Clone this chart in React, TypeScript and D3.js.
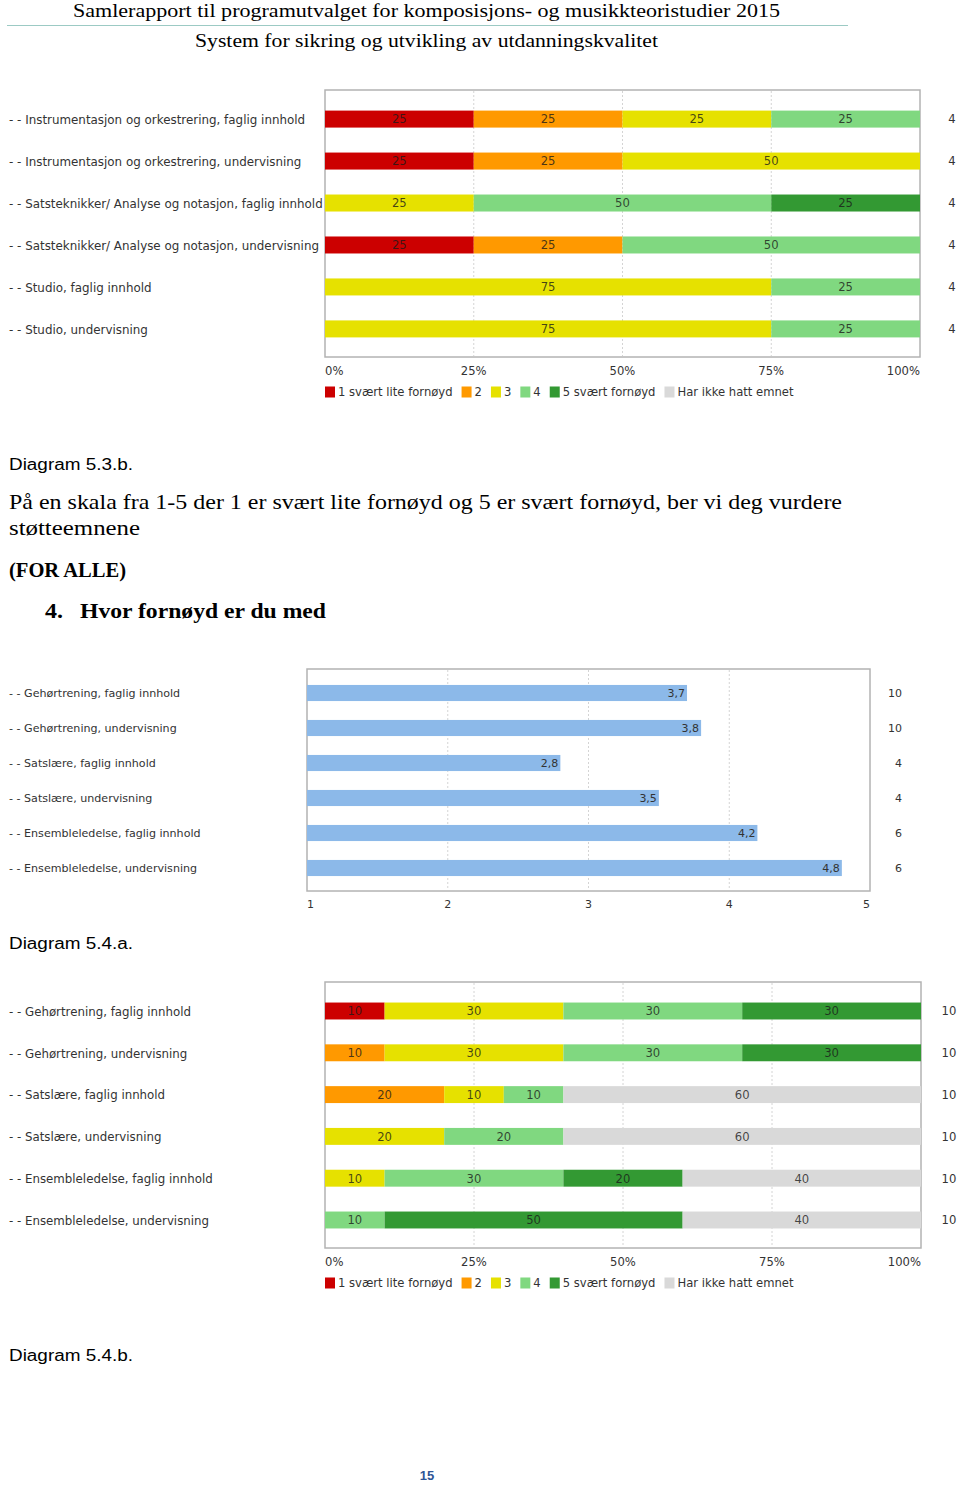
import React, { useEffect, useRef } from "react";
import * as d3 from "d3";

// ---------- data ----------
const levels = ["1 svært lite fornøyd", "2", "3", "4", "5 svært fornøyd", "Har ikke hatt emnet"];
const levelColors = ["#cc0000", "#ff9900", "#e6e100", "#80d880", "#339933", "#d9d9d9"];
const pctTicks = ["0%", "25%", "50%", "75%", "100%"];

// Diagram 5.3.b.
const cats1 = [
  "- - Instrumentasjon og orkestrering, faglig innhold",
  "- - Instrumentasjon og orkestrering, undervisning",
  "- - Satsteknikker/ Analyse og notasjon, faglig innhold",
  "- - Satsteknikker/ Analyse og notasjon, undervisning",
  "- - Studio, faglig innhold",
  "- - Studio, undervisning",
];
const c1_s1 = [25, 25, 0, 25, 0, 0];
const c1_s2 = [25, 25, 0, 25, 0, 0];
const c1_s3 = [25, 50, 25, 0, 75, 75];
const c1_s4 = [25, 0, 50, 50, 25, 25];
const c1_s5 = [0, 0, 25, 0, 0, 0];
const c1_s6 = [0, 0, 0, 0, 0, 0];
const c1_n = [4, 4, 4, 4, 4, 4];

// Diagram 5.4.a.
const cats2 = [
  "- - Gehørtrening, faglig innhold",
  "- - Gehørtrening, undervisning",
  "- - Satslære, faglig innhold",
  "- - Satslære, undervisning",
  "- - Ensembleledelse, faglig innhold",
  "- - Ensembleledelse, undervisning",
];
const c2_mean = [3.7, 3.8, 2.8, 3.5, 4.2, 4.8];
const c2_n = [10, 10, 4, 4, 6, 6];
const c2_ticks = [1, 2, 3, 4, 5];

// Diagram 5.4.b.
const cats3 = cats2;
const c3_s1 = [10, 0, 0, 0, 0, 0];
const c3_s2 = [0, 10, 20, 0, 0, 0];
const c3_s3 = [30, 30, 10, 20, 10, 0];
const c3_s4 = [30, 30, 10, 20, 30, 10];
const c3_s5 = [30, 30, 0, 0, 20, 50];
const c3_s6 = [0, 0, 60, 60, 40, 40];
const c3_n = [10, 10, 10, 10, 10, 10];

const CF = "'DejaVu Sans', Verdana, sans-serif";
const SERIF = "'Liberation Serif', 'DejaVu Serif', serif";
const SANS = "'Liberation Sans', Arial, sans-serif";

type G = d3.Selection<SVGGElement, unknown, null, undefined>;

function stackedChart(
  g: G,
  cats: string[],
  series: number[][],
  ns: number[],
  o: { left: number; right: number; top: number; bottom: number; y0: number; y1: number; axisY: number; legendY: number; nX: number; fs: number; catFs: number }
) {
  const rows = cats.map((c, i) => {
    const r: any = { cat: c };
    series.forEach((s, k) => (r["k" + k] = s[i]));
    return r;
  });
  const keys = series.map((_, k) => "k" + k);
  const stacked = d3.stack().keys(keys)(rows);
  const x = d3.scaleLinear().domain([0, 100]).range([o.left, o.right]);
  const y = d3.scaleBand<string>().domain(cats).range([o.y0, o.y1]).paddingInner(0.595).paddingOuter(0.3);

  // frame
  g.append("rect").attr("x", o.left).attr("y", o.top).attr("width", o.right - o.left).attr("height", o.bottom - o.top)
    .attr("fill", "#fff").attr("stroke", "#b3b3b3").attr("stroke-width", 1.5);
  // grid
  [25, 50, 75].forEach((t) => {
    g.append("line").attr("x1", x(t)).attr("x2", x(t)).attr("y1", o.top + 1).attr("y2", o.bottom - 1)
      .attr("stroke", "#d4d4d4").attr("stroke-dasharray", "2,2");
  });
  // bars
  stacked.forEach((layer, k) => {
    layer.forEach((d: any, i) => {
      const v = d[1] - d[0];
      if (v <= 0) return;
      g.append("rect").attr("x", x(d[0])).attr("y", y(cats[i])!).attr("width", x(d[1]) - x(d[0]))
        .attr("height", y.bandwidth()).attr("fill", levelColors[k]);
      g.append("text").attr("x", (x(d[0]) + x(d[1])) / 2).attr("y", y(cats[i])! + y.bandwidth() / 2)
        .attr("dy", "0.38em").attr("text-anchor", "middle").attr("font-family", CF).attr("font-size", o.fs)
        .attr("fill", "#1a1a1a").attr("fill-opacity", 0.8).text(String(v));
    });
  });
  // category labels
  cats.forEach((c) => {
    g.append("text").attr("x", 9).attr("y", y(c)! + y.bandwidth() / 2).attr("dy", "0.4em")
      .attr("font-family", CF).attr("font-size", o.catFs).attr("fill", "#333").text(c);
  });
  // N
  cats.forEach((c, i) => {
    g.append("text").attr("x", o.nX).attr("y", y(c)! + y.bandwidth() / 2).attr("dy", "0.38em").attr("text-anchor", "middle")
      .attr("font-family", CF).attr("font-size", o.fs).attr("fill", "#333").text(String(ns[i]));
  });
  // axis labels
  pctTicks.forEach((t, i) => {
    const anchor = i === 0 ? "start" : i === pctTicks.length - 1 ? "end" : "middle";
    g.append("text").attr("x", x(i * 25)).attr("y", o.axisY).attr("dy", "0.38em").attr("text-anchor", anchor)
      .attr("font-family", CF).attr("font-size", o.fs).attr("fill", "#333").text(t);
  });
  // legend
  let lx = o.left;
  levels.forEach((l, k) => {
    g.append("rect").attr("x", lx).attr("y", o.legendY - 5.5).attr("width", 10).attr("height", 11).attr("fill", levelColors[k]);
    const t = g.append("text").attr("x", lx + 13).attr("y", o.legendY).attr("dy", "0.38em")
      .attr("font-family", CF).attr("font-size", o.fs).attr("fill", "#333").text(l);
    const w = (t.node() as SVGTextElement).getComputedTextLength();
    lx += 13 + w + 9;
  });
}

function meanChart(g: G) {
  const left = 307, right = 870, top = 669, bottom = 891, fs = 11, catFs = 11.1;
  const x = d3.scaleLinear().domain([1, 5]).range([left, right]);
  const y = d3.scaleBand<string>().domain(cats2).range([675.5, 885.5]).paddingInner(0.54).paddingOuter(0.27);
  g.append("rect").attr("x", left).attr("y", top).attr("width", right - left).attr("height", bottom - top)
    .attr("fill", "#fff").attr("stroke", "#b3b3b3").attr("stroke-width", 1.5);
  [2, 3, 4].forEach((t) => {
    g.append("line").attr("x1", x(t)).attr("x2", x(t)).attr("y1", top + 1).attr("y2", bottom - 1)
      .attr("stroke", "#d4d4d4").attr("stroke-dasharray", "2,2");
  });
  cats2.forEach((c, i) => {
    const yy = y(c)!;
    g.append("rect").attr("x", x(1)).attr("y", yy).attr("width", x(c2_mean[i]) - x(1)).attr("height", y.bandwidth())
      .attr("fill", "#8cb9e9");
    g.append("text").attr("x", x(c2_mean[i]) - 2).attr("y", yy + y.bandwidth() / 2).attr("dy", "0.38em").attr("text-anchor", "end")
      .attr("font-family", CF).attr("font-size", fs).attr("fill", "#333").text(String(c2_mean[i]).replace(".", ","));
    g.append("text").attr("x", 9).attr("y", yy + y.bandwidth() / 2).attr("dy", "0.38em")
      .attr("font-family", CF).attr("font-size", catFs).attr("fill", "#333").text(c);
    g.append("text").attr("x", 902).attr("y", yy + y.bandwidth() / 2).attr("dy", "0.38em").attr("text-anchor", "end")
      .attr("font-family", CF).attr("font-size", fs).attr("fill", "#333").text(String(c2_n[i]));
  });
  c2_ticks.forEach((t, i) => {
    const anchor = i === 0 ? "start" : i === c2_ticks.length - 1 ? "end" : "middle";
    g.append("text").attr("x", x(t)).attr("y", 904).attr("dy", "0.38em").attr("text-anchor", anchor)
      .attr("font-family", CF).attr("font-size", fs).attr("fill", "#333").text(String(t));
  });
}

export default function App() {
  const ref = useRef<SVGSVGElement>(null);
  useEffect(() => {
    const svg = d3.select(ref.current!);
    svg.selectAll("*").remove();
    const g = svg.append("g") as G;

    const txt = (s: string, x: number, y: number, opts: any) => {
      const t = g.append("text").attr("x", x).attr("y", y).text(s)
        .attr("font-family", opts.family).attr("font-size", opts.size).attr("fill", opts.fill || "#000");
      if (opts.weight) t.attr("font-weight", opts.weight);
      if (opts.anchor) t.attr("text-anchor", opts.anchor);
      if (opts.len) t.attr("textLength", opts.len).attr("lengthAdjust", "spacingAndGlyphs");
      return t;
    };

    // header
    txt("Samlerapport til programutvalget for komposisjons- og musikkteoristudier 2015", 426.5, 16.5, { family: SERIF, size: 18.5, anchor: "middle", len: 707 });
    g.append("line").attr("x1", 7).attr("x2", 848).attr("y1", 25.5).attr("y2", 25.5).attr("stroke", "#9ccac4").attr("stroke-width", 1);
    txt("System for sikring og utvikling av utdanningskvalitet", 426.5, 46.5, { family: SERIF, size: 18.5, anchor: "middle", len: 463 });

    stackedChart(g, cats1, [c1_s1, c1_s2, c1_s3, c1_s4, c1_s5, c1_s6], c1_n, {
      left: 325, right: 920, top: 90, bottom: 357, y0: 98, y1: 350, axisY: 371, legendY: 392, nX: 952, fs: 11.6, catFs: 11.9,
    });

    txt("Diagram 5.3.b.", 9, 470, { family: SANS, size: 16, len: 124 });
    txt("På en skala fra 1-5 der 1 er svært lite fornøyd og 5 er svært fornøyd, ber vi deg vurdere", 9, 509, { family: SERIF, size: 21, len: 833 });
    txt("støtteemnene", 9, 535, { family: SERIF, size: 21, len: 131 });
    txt("(FOR ALLE)", 9, 577, { family: SERIF, size: 21, weight: "bold", len: 117 });
    txt("4.", 45, 618, { family: SERIF, size: 21, weight: "bold", len: 18 });
    txt("Hvor fornøyd er du med", 80, 618, { family: SERIF, size: 21, weight: "bold", len: 246 });

    meanChart(g);

    txt("Diagram 5.4.a.", 9, 949, { family: SANS, size: 16, len: 124 });

    stackedChart(g, cats3, [c3_s1, c3_s2, c3_s3, c3_s4, c3_s5, c3_s6], c3_n, {
      left: 325, right: 921, top: 982, bottom: 1248, y0: 990, y1: 1241, axisY: 1262, legendY: 1283, nX: 949, fs: 11.6, catFs: 11.8,
    });

    txt("Diagram 5.4.b.", 9, 1361, { family: SANS, size: 16, len: 124 });
    txt("15", 427, 1480, { family: SANS, size: 13, weight: "bold", anchor: "middle", fill: "#2f5597" });
  }, []);
  return (
    <svg ref={ref} width={960} height={1486} style={{ position: "absolute", left: 0, top: 0, background: "#fff" }} />
  );
}
